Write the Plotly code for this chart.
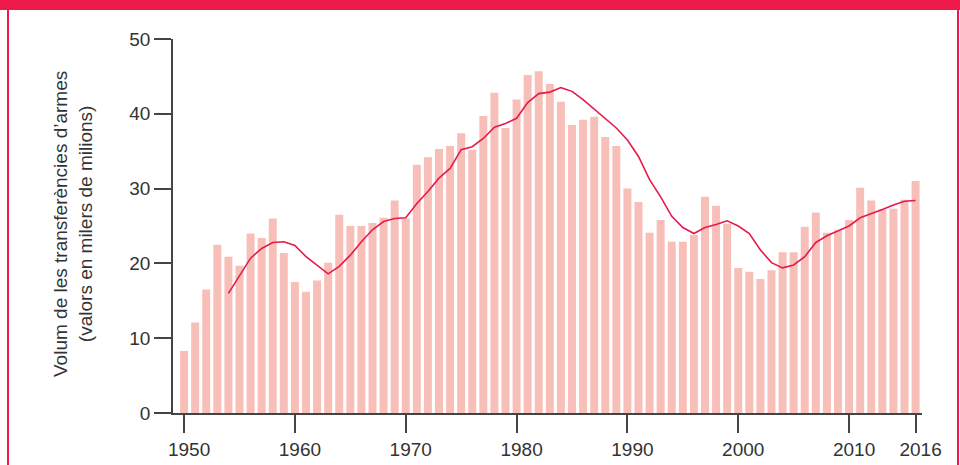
import plotly.graph_objects as go

years = list(range(1950, 2017))
transfers = [
    8.3, 12.1, 16.5, 22.5, 20.9, 19.7, 24.0, 23.4, 26.0, 21.4,
    17.5, 16.2, 17.7, 20.1, 26.5, 25.0, 25.0, 25.4, 26.1, 28.4,
    26.0, 33.2, 34.2, 35.3, 35.7, 37.4, 35.2, 39.7, 42.8, 38.1,
    41.9, 45.2, 45.7, 44.0, 41.6, 38.5, 39.2, 39.6, 36.9, 35.7,
    30.0, 28.2, 24.1, 25.8, 22.9, 22.9, 23.8, 28.9, 27.7, 25.3,
    19.4, 18.9, 17.9, 19.1, 21.5, 21.5, 24.9, 26.8, 24.1, 24.4,
    25.8, 30.1, 28.4, 27.2, 27.3, 28.5, 31.0,
]
avg_years = list(range(1954, 2017))
avg_values = [
    16.0, 18.4, 20.7, 22.0, 22.8, 22.9,
    22.4, 20.9, 19.8, 18.6, 19.6, 21.1, 22.9, 24.5, 25.6, 26.0,
    26.1, 28.0, 29.6, 31.4, 32.7, 35.2, 35.6, 36.7, 38.2, 38.7,
    39.4, 41.5, 42.7, 42.9, 43.5, 43.0, 41.9, 40.6, 39.3, 38.1,
    36.5, 34.3, 31.2, 28.9, 26.3, 24.8, 24.0, 24.8, 25.2, 25.7,
    25.0, 24.0, 21.8, 20.1, 19.4, 19.8, 20.9, 22.8, 23.7, 24.3,
    25.0, 26.1, 26.6, 27.2, 27.8, 28.3, 28.4,
]
x_tick_vals = [1950, 1960, 1970, 1980, 1990, 2000, 2010, 2016]
x_tick_text = ["1950", "1960", "1970", "1980", "1990", "2000", "2010", "2016"]
y_tick_vals = [0, 10, 20, 30, 40, 50]
y_title_lines = ["Volum de les transferències d’armes", "(valors en milers de milions)"]

W, H = 960, 465
L, R, T, B = 173, 38, 39, 52
PW, PH = W - L - R, H - T - B


def px_x(p):
    return (p - L) / PW


def px_y(p):
    return (H - B - p) / PH


RED = "#EE1A4B"
AXIS = "#444444"
TEXT = "#333333"

fig = go.Figure()
fig.add_trace(go.Bar(x=years, y=transfers, marker=dict(color="#F8BFB9", line=dict(width=0)),
                     hoverinfo="x+y"))
fig.add_trace(go.Scatter(x=avg_years, y=avg_values, mode="lines",
                         line=dict(color="#E8194B", width=1.6)))

fig.update_layout(
    width=W, height=H,
    margin=dict(l=L, r=R, t=T, b=B, pad=0, autoexpand=False),
    paper_bgcolor="white", plot_bgcolor="white",
    showlegend=False, bargap=0.28,
    font=dict(family="Liberation Sans, Arial, sans-serif", color=TEXT, size=19),
    xaxis=dict(range=[1949.0, 2016.58], tickmode="array", tickvals=x_tick_vals,
               ticktext=x_tick_text, ticks="outside", ticklen=18, tickwidth=1.5,
               tickcolor=AXIS, showline=True, linecolor=AXIS, linewidth=1.5,
               showgrid=False, zeroline=False, ticklabelshift=5, automargin=False,
               tickfont=dict(size=19, color=TEXT)),
    yaxis=dict(range=[0, 50], tickmode="array", tickvals=y_tick_vals,
               ticks="outside", ticklen=17, tickwidth=1.5, tickcolor=AXIS,
               showline=True, linecolor=AXIS, linewidth=1.5, showgrid=False,
               zeroline=False, automargin=False, tickfont=dict(size=19, color=TEXT)),
    shapes=[
        dict(type="rect", xref="paper", yref="paper", x0=px_x(-2), x1=px_x(W + 2),
             y0=px_y(10), y1=px_y(-2), fillcolor=RED, line=dict(width=0), layer="above"),
        dict(type="rect", xref="paper", yref="paper", x0=px_x(7), x1=px_x(9),
             y0=px_y(H + 2), y1=px_y(5), fillcolor=RED, line=dict(width=0), layer="above"),
        dict(type="rect", xref="paper", yref="paper", x0=px_x(957), x1=px_x(959),
             y0=px_y(H + 2), y1=px_y(5), fillcolor=RED, line=dict(width=0), layer="above"),
    ],
    annotations=[
        dict(text="<br>".join(y_title_lines), xref="paper", yref="paper",
             x=px_x(73), y=px_y(224), xanchor="center", yanchor="middle",
             textangle=-90, showarrow=False,
             font=dict(size=19, color=TEXT, family="Liberation Sans, Arial, sans-serif")),
    ],
)

fig.write_html(
    "out.html",
    config={"displayModeBar": False},
    post_script="document.body.style.margin='0';document.body.style.overflow='hidden';",
)
